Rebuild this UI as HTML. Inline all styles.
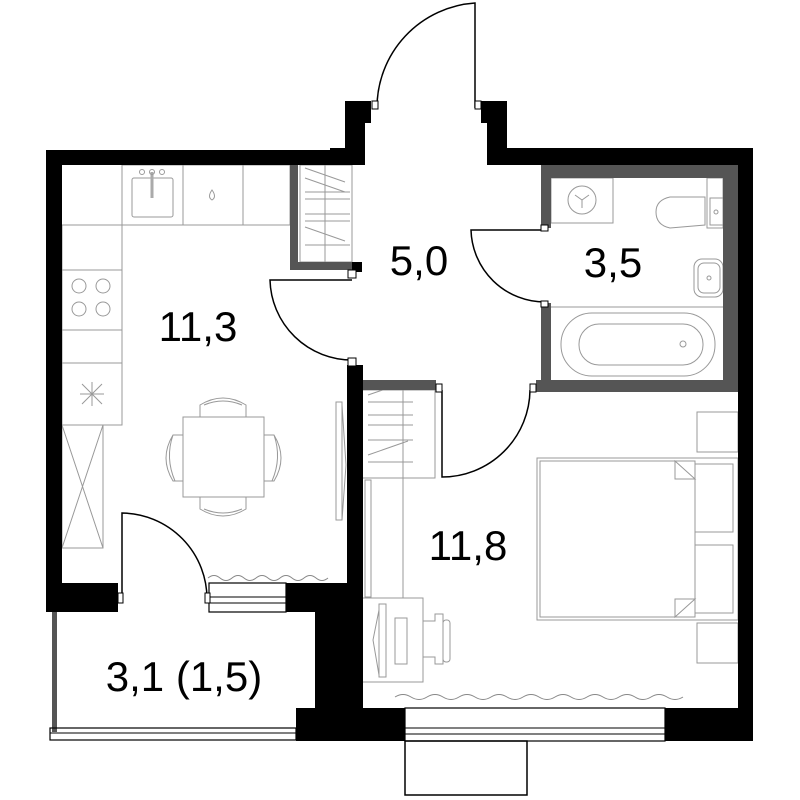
<!DOCTYPE html>
<html><head><meta charset="utf-8"><style>
html,body{margin:0;padding:0;background:#fff;}
svg{display:block}
text{font-family:"Liberation Sans",sans-serif;fill:#000}
</style></head><body>
<svg width="800" height="800" viewBox="0 0 800 800" xmlns="http://www.w3.org/2000/svg">
<g fill="none" stroke="#999" stroke-width="1">
  <rect x="122" y="165" width="168" height="60"/>
  <line x1="183" y1="165" x2="183" y2="225"/>
  <line x1="243" y1="165" x2="243" y2="225"/>
  <rect x="132" y="178" width="41" height="39" rx="2"/>
  <line x1="152" y1="172" x2="152" y2="198" stroke-width="3" stroke="#aaa"/>
  <circle cx="142" cy="172" r="2.5"/><circle cx="152" cy="172" r="2.5"/><circle cx="162" cy="172" r="2.5"/>
  <path d="M212 190 q-5 7 0 10 q5 -3 0 -10z"/>
  <rect x="62" y="225" width="60" height="200"/>
  <line x1="62" y1="270" x2="122" y2="270"/>
  <line x1="62" y1="330" x2="122" y2="330"/>
  <line x1="62" y1="363" x2="122" y2="363"/>
  <circle cx="79" cy="286" r="7"/><circle cx="103" cy="286" r="7"/>
  <circle cx="79" cy="309" r="7"/><circle cx="103" cy="309" r="7"/>
  <path d="M82 384 l20 20 M102 384 l-20 20 M92 382 v24 M80 394 h24"/>
  <rect x="62" y="425" width="41" height="123"/>
  <path d="M62 425 L103 548 M103 425 L62 548"/>
  <rect x="183" y="417" width="81" height="80"/>
  <path d="M200 417 v-12 q23 -14 46 0 v12 M204 405 q19 -8 38 0"/>
  <path d="M200 497 v12 q23 14 46 0 v-12 M204 509 q19 8 38 0"/>
  <path d="M183 435 h-10 q-14 23 0 46 h10 M173 435 q-8 23 2 46"/>
  <path d="M264 435 h10 q14 23 0 46 h-10 M274 435 q8 23 -2 46"/>
  <rect x="336" y="402" width="6" height="118"/>
  <path d="M342 405 l4 60 l-4 55"/>
  <rect x="300" y="165" width="52" height="97"/>
  <line x1="325" y1="165" x2="325" y2="262"/>
  <path d="M305 168 l40 14 M305 178 l40 14 M305 192 h45 M305 199 h45 M305 214 h45 M305 221 h45 M305 227 l40 14 M305 245 h45"/>
  <path d="M208 578 q6 -5 12 0 t12 0 t12 0 t12 0 t12 0 t12 0 t12 0 t12 0 t12 0 t12 0" stroke="#888"/>
  <path d="M395 697 q8 -5 16 0 t16 0 t16 0 t16 0 t16 0 t16 0 t16 0 t16 0 t16 0 t16 0 t16 0 t16 0 t16 0 t16 0 t16 0 t16 0 t16 0 t16 0" stroke="#888"/>
  <rect x="551" y="178" width="62" height="45"/>
  <circle cx="582" cy="200" r="14"/>
  <path d="M582 200 v8 M582 200 l-7 -5 M582 200 l7 -5"/>
  <path d="M705 197 h-35 q-14 3 -14 15 q0 13 14 16 l35 -3z"/>
  <rect x="707" y="178" width="16" height="50"/>
  <rect x="710" y="198" width="13" height="27"/>
  <circle cx="716" cy="212" r="2"/>
  <rect x="694" y="259" width="29" height="38" rx="8"/>
  <rect x="698" y="263" width="22" height="30" rx="6"/>
  <circle cx="709" cy="278" r="2"/>
  <line x1="551" y1="307" x2="723" y2="307"/>
  <rect x="561" y="313" width="154" height="63" rx="31"/>
  <rect x="579" y="324" width="124" height="41" rx="20"/>
  <circle cx="683" cy="344" r="3"/>
  <rect x="362" y="390" width="73" height="88"/>
  <line x1="403" y1="390" x2="403" y2="478"/>
  <path d="M368 395 l35 -12 M368 402 h45 M368 415 h45 M368 425 h45 M368 440 h45 M368 455 l40 -14 M368 462 h45"/>
  <rect x="362" y="478" width="41" height="120"/>
  <rect x="365" y="480" width="6" height="117"/>
  <rect x="362" y="598" width="61" height="84"/>
  <rect x="379" y="604" width="7" height="73"/>
  <path d="M379 610 l-6 30 l6 35"/>
  <rect x="395" y="618" width="12" height="46"/>
  <path d="M423 621 h12 v-7 h8 v50 h-8 v-7 h-12"/>
  <rect x="443" y="620" width="7" height="42" rx="3"/>
  <rect x="537" y="458" width="201" height="162"/>
  <rect x="540" y="461" width="155" height="156"/>
  <path d="M675 461 l20 18 h-20z M675 617 l20 -18 h-20z"/>
  <rect x="695" y="464" width="38" height="68"/>
  <rect x="695" y="545" width="38" height="68"/>
  <rect x="697" y="412" width="41" height="40"/>
  <rect x="697" y="623" width="41" height="40"/>
</g>
<g fill="#555">
  <rect x="290" y="165" width="8" height="103"/>
  <rect x="290" y="262" width="72" height="8"/>
  <rect x="541" y="165" width="197" height="13"/>
  <rect x="541" y="165" width="10" height="63"/>
  <rect x="541" y="303" width="10" height="87"/>
  <rect x="723" y="165" width="15" height="225"/>
  <rect x="536" y="380" width="202" height="12"/>
  <rect x="362" y="380" width="74" height="10"/>
  <rect x="52" y="612" width="5" height="120"/>
</g>
<g fill="#000">
  <rect x="46" y="150" width="319" height="15"/>
  <rect x="46" y="150" width="16" height="462"/>
  <rect x="46" y="583" width="72" height="29"/>
  <rect x="345" y="101" width="26" height="22"/>
  <rect x="345" y="101" width="20" height="64"/>
  <rect x="330" y="148" width="35" height="17"/>
  <rect x="481" y="101" width="26" height="22"/>
  <rect x="487" y="101" width="20" height="64"/>
  <rect x="487" y="148" width="266" height="17"/>
  <rect x="738" y="148" width="15" height="592"/>
  <rect x="347" y="365" width="16" height="247"/>
  <rect x="286" y="583" width="77" height="29"/>
  <rect x="315" y="583" width="48" height="130"/>
  <rect x="296" y="708" width="109" height="33"/>
  <rect x="665" y="708" width="88" height="33"/>
  <rect x="352" y="262" width="10" height="10"/>
</g>
<g fill="none" stroke="#000" stroke-width="1.5">
  <path d="M475 108 V3 A105 105 0 0 0 377 108"/>
  <path d="M352 280 H270 A82 82 0 0 0 352 360"/>
  <path d="M545 230 H471 A74 74 0 0 0 545 302"/>
  <path d="M442 390 V477 A88 88 0 0 0 530 390"/>
  <path d="M122 600 V513 A86 86 0 0 1 207 600"/>
  <rect x="209" y="583" width="77" height="29" stroke-width="1.2"/>
  <path d="M209 597 h77 M209 603 h77" stroke-width="1"/>
  <rect x="405" y="708" width="260" height="33" stroke-width="1.2"/>
  <path d="M405 728 h260 M405 734 h260" stroke-width="1"/>
  <rect x="50" y="728" width="246" height="12" stroke-width="1.2"/>
  <path d="M50 733 h246" stroke-width="1"/>
  <rect x="405" y="741" width="122" height="54"/>
</g>
<g fill="#fff" stroke="#000" stroke-width="1">
  <rect x="372" y="101" width="6" height="8"/><rect x="475" y="101" width="6" height="8"/>
  <rect x="348" y="270" width="8" height="8"/><rect x="348" y="358" width="8" height="8"/>
  <rect x="541" y="225" width="7" height="6"/><rect x="541" y="301" width="7" height="6"/>
  <rect x="436" y="384" width="6" height="8"/><rect x="530" y="384" width="6" height="8"/>
  <rect x="118" y="593" width="5" height="10"/><rect x="205" y="593" width="5" height="10"/>
</g>
<text x="198" y="341" font-size="42" text-anchor="middle">11,3</text>
<text x="419" y="275" font-size="42" text-anchor="middle">5,0</text>
<text x="613" y="277" font-size="42" text-anchor="middle">3,5</text>
<text x="468" y="560" font-size="42" text-anchor="middle">11,8</text>
<text x="184" y="691" font-size="42" text-anchor="middle">3,1 (1,5)</text>
</svg>
</body></html>
